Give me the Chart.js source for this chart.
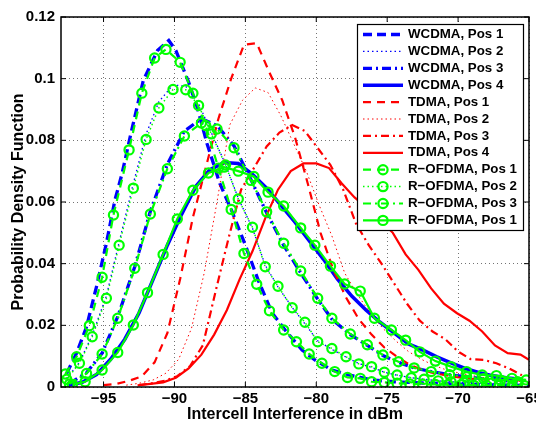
<!DOCTYPE html>
<html>
<head>
<meta charset="utf-8">
<title>Intercell Interference PDF</title>
<script src="https://cdn.jsdelivr.net/npm/chart.js"></script>
<style>
  body { margin: 0; background: #fff; }
</style>
</head>
<body>
<canvas id="pdfChart" width="536" height="424"></canvas>

<script>
  // axis ticks
  const xTickValues = [-95, -90, -85, -80, -75, -70, -65];
  const yTickValues = [0, 0.02, 0.04, 0.06, 0.08, 0.1, 0.12];

  // legend labels (same order as the original figure)
  const seriesLabels = [
    'WCDMA, Pos 1', 'WCDMA, Pos 2', 'WCDMA, Pos 3', 'WCDMA, Pos 4',
    'TDMA, Pos 1', 'TDMA, Pos 2', 'TDMA, Pos 3', 'TDMA, Pos 4',
    'R\u2212OFDMA, Pos 1', 'R\u2212OFDMA, Pos 2', 'R\u2212OFDMA, Pos 3', 'R\u2212OFDMA, Pos 1'
  ];

  // WCDMA
  const wcdma1X = [-97.6, -96.9, -96.2, -95.5, -94.8, -94.2, -93.7, -93.1, -92.2, -91.2, -90.4, -89.9, -89.0, -88.4, -87.7, -86.8, -86.0, -85.0, -84.1, -83.1, -82.2, -81.0, -80.1, -78.9, -77.7, -76.1, -74.5, -72.5, -70.5, -68.5, -66.5, -65.0];
  const wcdma1Y = [0.0044, 0.011, 0.0195, 0.0325, 0.0466, 0.0606, 0.0691, 0.0816, 0.0994, 0.1091, 0.1124, 0.1091, 0.0989, 0.0908, 0.0789, 0.066, 0.0576, 0.046, 0.0347, 0.0239, 0.0185, 0.012, 0.0088, 0.0055, 0.0039, 0.0023, 0.0017, 0.0013, 0.001, 0.0008, 0.0006, 0.0005];
  const wcdma2X = [-97.6, -96.7, -95.8, -94.8, -93.9, -92.9, -92.0, -91.1, -90.1, -89.2, -88.3, -87.4, -86.4, -85.5, -84.5, -83.6, -82.7, -81.7, -80.8, -79.9, -78.9, -77.9, -77.0, -76.1, -75.2, -74.3, -73.3, -72.4, -71.4, -70.5, -69.6, -68.6, -67.7, -66.7, -65.8];
  const wcdma2Y = [0.0028, 0.008, 0.0168, 0.0295, 0.047, 0.066, 0.082, 0.0925, 0.098, 0.0975, 0.092, 0.0825, 0.0722, 0.0612, 0.0515, 0.0395, 0.0325, 0.0258, 0.0205, 0.015, 0.0122, 0.0097, 0.0076, 0.0064, 0.0048, 0.0038, 0.003, 0.0025, 0.002, 0.0017, 0.0015, 0.0013, 0.0012, 0.001, 0.0009];
  const wcdma3X = [-97.4, -96.2, -95.1, -94.0, -92.8, -91.7, -90.5, -89.3, -88.1, -87.0, -85.8, -84.6, -83.5, -82.3, -81.1, -79.9, -78.9, -77.6, -76.4, -75.3, -74.2, -73.1, -71.9, -70.6, -69.4, -68.2, -67.0, -65.8];
  const wcdma3Y = [0.0012, 0.0046, 0.011, 0.0228, 0.039, 0.057, 0.0722, 0.083, 0.087, 0.0848, 0.0782, 0.0672, 0.0565, 0.046, 0.037, 0.0285, 0.022, 0.017, 0.0135, 0.0102, 0.008, 0.0062, 0.005, 0.004, 0.0033, 0.0027, 0.0022, 0.0017];
  const wcdma4X = [-97.5, -96.5, -95.5, -94.5, -93.5, -92.5, -91.5, -90.5, -89.5, -88.5, -87.5, -86.5, -85.5, -84.5, -83.5, -82.5, -81.5, -80.5, -79.5, -78.5, -77.5, -76.5, -75.5, -74.5, -73.5, -72.5, -71.5, -70.5, -69.5, -68.5, -67.5, -66.5, -65.5];
  const wcdma4Y = [0.0006, 0.0015, 0.004, 0.009, 0.0155, 0.024, 0.035, 0.046, 0.056, 0.065, 0.0705, 0.0728, 0.0725, 0.069, 0.0645, 0.059, 0.0535, 0.0475, 0.0415, 0.035, 0.0295, 0.025, 0.021, 0.0175, 0.014, 0.012, 0.0098, 0.0078, 0.006, 0.0046, 0.0036, 0.0029, 0.0025];

  // TDMA
  const tdma1X = [-95.0, -94.1, -93.2, -92.3, -91.4, -90.5, -89.6, -88.7, -87.8, -86.9, -86.0, -85.1, -84.2, -83.3, -82.4, -81.5, -80.6, -79.7, -78.8, -77.9, -77.0, -76.1, -75.2, -74.3, -73.4, -72.5, -71.6, -70.7, -69.8, -68.9, -68.0, -67.1, -66.2, -65.3];
  const tdma1Y = [0.0006, 0.001, 0.002, 0.0035, 0.008, 0.0175, 0.035, 0.055, 0.071, 0.087, 0.1, 0.111, 0.1115, 0.102, 0.093, 0.081, 0.066, 0.05, 0.038, 0.029, 0.022, 0.017, 0.0128, 0.0098, 0.0072, 0.0055, 0.0044, 0.0037, 0.003, 0.0026, 0.0024, 0.0022, 0.002, 0.002];
  const tdma2X = [-93.4, -92.5, -91.5, -90.6, -89.7, -88.8, -87.9, -87.0, -86.1, -85.2, -84.3, -83.4, -82.5, -81.6, -80.7, -79.8, -78.9, -78.0, -77.1, -76.2, -75.3, -74.4, -73.5, -72.6, -71.7, -70.8, -69.9, -69.0, -68.1, -67.2, -66.3, -65.4];
  const tdma2Y = [0.0006, 0.0012, 0.0023, 0.0045, 0.009, 0.019, 0.037, 0.06, 0.085, 0.093, 0.097, 0.0955, 0.088, 0.079, 0.07, 0.059, 0.049, 0.037, 0.03, 0.024, 0.019, 0.015, 0.0115, 0.009, 0.007, 0.0055, 0.0045, 0.0037, 0.003, 0.0025, 0.002, 0.0017];
  const tdma3X = [-92.5, -91.6, -90.7, -89.8, -88.9, -88.0, -87.1, -86.2, -85.3, -84.4, -83.5, -82.6, -81.7, -80.8, -79.9, -79.0, -78.1, -77.2, -76.3, -75.4, -74.5, -73.6, -72.7, -71.8, -70.9, -70.0, -69.1, -68.2, -67.3, -66.4, -65.5];
  const tdma3Y = [0.0006, 0.0012, 0.002, 0.0035, 0.0068, 0.0135, 0.031, 0.048, 0.064, 0.071, 0.078, 0.0825, 0.085, 0.083, 0.0775, 0.072, 0.064, 0.053, 0.046, 0.04, 0.0335, 0.027, 0.0215, 0.018, 0.0155, 0.0115, 0.009, 0.0088, 0.0077, 0.006, 0.0038];
  const tdma4X = [-92.6, -91.7, -90.8, -89.9, -89.0, -88.1, -87.2, -86.3, -85.4, -84.5, -83.6, -82.7, -81.8, -80.9, -80.0, -79.1, -78.2, -77.3, -76.4, -75.5, -74.6, -73.7, -72.8, -71.9, -71.0, -70.1, -69.2, -68.3, -67.4, -66.5, -65.6, -65.0];
  const tdma4Y = [0.0005, 0.001, 0.0015, 0.003, 0.006, 0.0105, 0.017, 0.025, 0.035, 0.044, 0.0547, 0.064, 0.07, 0.0725, 0.0725, 0.071, 0.066, 0.0615, 0.058, 0.054, 0.05, 0.043, 0.038, 0.032, 0.027, 0.024, 0.0215, 0.018, 0.0135, 0.011, 0.0105, 0.0088];

  // R-OFDMA (circle markers at every sample)
  const ofdma1X = [-97.7, -96.9, -96.0, -95.1, -94.3, -93.2, -92.3, -91.4, -90.6, -89.6, -88.7, -87.8, -86.9, -86.0, -85.1, -84.2, -83.3, -82.3, -81.4, -80.5, -79.6, -78.7, -77.8, -76.9, -76.1, -75.2, -74.3, -73.4, -72.5, -71.6, -70.7, -69.8, -68.9, -68.0, -67.1, -66.2, -65.3];
  const ofdma1Y = [0.0042, 0.0098, 0.0199, 0.0356, 0.0558, 0.0769, 0.0953, 0.1067, 0.1095, 0.1053, 0.0953, 0.0848, 0.071, 0.0576, 0.0433, 0.0333, 0.0247, 0.0185, 0.0147, 0.0107, 0.0077, 0.005, 0.0031, 0.0028, 0.0017, 0.0015, 0.0012, 0.001, 0.0009, 0.0008, 0.0008, 0.0007, 0.0006, 0.0005, 0.0005, 0.0004, 0.0004];
  const ofdma2X = wcdma2X;
  const ofdma2Y = [0.0025, 0.0077, 0.0163, 0.0288, 0.046, 0.0645, 0.0803, 0.0905, 0.0965, 0.0964, 0.0913, 0.0821, 0.072, 0.061, 0.0518, 0.039, 0.0327, 0.0257, 0.021, 0.0147, 0.0125, 0.0098, 0.0075, 0.0066, 0.0048, 0.0039, 0.003, 0.0025, 0.002, 0.0017, 0.0015, 0.0013, 0.0012, 0.001, 0.0009];
  const ofdma3X = wcdma3X;
  const ofdma3Y = [0.001, 0.0044, 0.0107, 0.0223, 0.0385, 0.0561, 0.0708, 0.0814, 0.0856, 0.0837, 0.0776, 0.067, 0.0568, 0.0466, 0.0376, 0.0288, 0.0223, 0.0172, 0.0137, 0.0104, 0.0082, 0.0062, 0.005, 0.004, 0.0033, 0.0027, 0.0022, 0.0017];
  const ofdma4X = [-97.2, -96.3, -95.1, -94.0, -92.9, -91.9, -90.8, -89.8, -88.7, -87.6, -86.5, -85.5, -84.4, -83.4, -82.3, -81.1, -80.1, -79.0, -78.0, -76.9, -75.9, -74.7, -73.7, -72.7, -71.6, -70.5, -69.4, -68.3, -67.3, -66.2, -65.2];
  const ofdma4Y = [0.0008, 0.0017, 0.0055, 0.0112, 0.0201, 0.0306, 0.043, 0.0545, 0.0638, 0.0694, 0.0713, 0.07, 0.0683, 0.0632, 0.0587, 0.0516, 0.046, 0.0392, 0.0334, 0.0311, 0.0223, 0.0185, 0.0152, 0.0114, 0.0084, 0.0066, 0.005, 0.0039, 0.0037, 0.0028, 0.0023];

  const FONT = '"Liberation Sans", Arial, Helvetica, sans-serif';
  const BLUE = '#0000ff', RED = '#ff0000', GREEN = '#00ff00';
  const DASH = [9, 5], DOT = [1.5, 3], DASHDOT = [9, 4, 2, 4];

  function pts(xs, ys) {
    return xs.map((x, i) => ({ x: x, y: ys[i] }));
  }

  // order: lower number is drawn on top (green over red over blue)
  function series(idx, xs, ys, color, width, dash, marker, order) {
    return {
      label: seriesLabels[idx],
      data: pts(xs, ys),
      borderColor: color,
      borderWidth: width,
      borderDash: dash,
      fill: false,
      tension: 0,
      order: order,
      pointRadius: marker ? 4.6 : 0,
      pointBorderWidth: 2.2,
      pointBorderColor: color,
      pointBackgroundColor: 'rgba(0,0,0,0)'
    };
  }

  const datasets = [
    series(0, wcdma1X, wcdma1Y, BLUE, 3.3, DASH, false, 2),
    series(1, wcdma2X, wcdma2Y, BLUE, 1.3, DOT, false, 2),
    series(2, wcdma3X, wcdma3Y, BLUE, 3.3, DASHDOT, false, 2),
    series(3, wcdma4X, wcdma4Y, BLUE, 3.6, [], false, 2),
    series(4, tdma1X, tdma1Y, RED, 2.2, [8, 6], false, 1),
    series(5, tdma2X, tdma2Y, RED, 1, DOT, false, 1),
    series(6, tdma3X, tdma3Y, RED, 2.2, [8, 4, 2, 4], false, 1),
    series(7, tdma4X, tdma4Y, RED, 2.2, [], false, 1),
    series(8, ofdma1X, ofdma1Y, GREEN, 2.2, [8, 6], true, 0),
    series(9, ofdma2X, ofdma2Y, GREEN, 1.5, DOT, true, 0),
    series(10, ofdma3X, ofdma3Y, GREEN, 2.2, [8, 4, 2, 4], true, 0),
    series(11, ofdma4X, ofdma4Y, GREEN, 2.2, [], true, 0)
  ];

  // black box round the plot with inward tick marks (matlab style)
  const axesBox = {
    id: 'axesBox',
    afterDatasetsDraw(chart) {
      const { ctx, chartArea: a, scales } = chart;
      ctx.save();
      ctx.strokeStyle = '#000';
      ctx.lineWidth = 1.5;
      ctx.setLineDash([]);
      ctx.strokeRect(a.left, a.top, a.right - a.left, a.bottom - a.top);
      ctx.lineWidth = 1;
      ctx.beginPath();
      xTickValues.forEach(v => {
        const x = scales.x.getPixelForValue(v);
        ctx.moveTo(x, a.bottom); ctx.lineTo(x, a.bottom - 5);
        ctx.moveTo(x, a.top); ctx.lineTo(x, a.top + 5);
      });
      yTickValues.forEach(v => {
        const y = scales.y.getPixelForValue(v);
        ctx.moveTo(a.left, y); ctx.lineTo(a.left + 5, y);
        ctx.moveTo(a.right, y); ctx.lineTo(a.right - 5, y);
      });
      ctx.stroke();
      ctx.restore();
    }
  };

  // legend box inside the plot, top right
  const boxLegend = {
    id: 'boxLegend',
    afterDraw(chart) {
      const { ctx, chartArea: a } = chart;
      const left = a.right - 172, top = a.top + 7, w = 166, h = 206;
      ctx.save();
      ctx.fillStyle = '#fff';
      ctx.fillRect(left, top, w, h);
      ctx.strokeStyle = '#000';
      ctx.lineWidth = 1.2;
      ctx.setLineDash([]);
      ctx.strokeRect(left + 0.5, top + 0.5, w, h);
      ctx.font = 'bold 13.3px ' + FONT;
      ctx.textBaseline = 'middle';
      ctx.textAlign = 'left';
      chart.data.datasets.forEach((ds, i) => {
        const y = top + 10.5 + i * 16.9;
        ctx.strokeStyle = ds.borderColor;
        ctx.lineWidth = ds.borderWidth;
        ctx.setLineDash(ds.borderDash);
        ctx.beginPath();
        ctx.moveTo(left + 6, y);
        ctx.lineTo(left + 46, y);
        ctx.stroke();
        if (ds.pointRadius > 0) {
          ctx.setLineDash([]);
          ctx.lineWidth = ds.pointBorderWidth;
          ctx.beginPath();
          ctx.arc(left + 26, y, ds.pointRadius, 0, Math.PI * 2);
          ctx.stroke();
        }
        ctx.fillStyle = '#000';
        ctx.fillText(ds.label, left + 51, y);
      });
      ctx.restore();
    }
  };

  Chart.defaults.font.family = FONT;
  Chart.defaults.color = '#000';

  const ctx = document.getElementById('pdfChart').getContext('2d');
  new Chart(ctx, {
    type: 'line',
    data: { datasets: datasets },
    plugins: [axesBox, boxLegend],
    options: {
      responsive: false,
      animation: false,
      events: [],
      layout: { padding: { top: 17, right: 7, bottom: 0, left: 0 } },
      plugins: { legend: { display: false }, tooltip: { enabled: false } },
      scales: {
        x: {
          type: 'linear',
          min: -98,
          max: -65,
          afterBuildTicks: s => { s.ticks = xTickValues.map(v => ({ value: v })); },
          afterFit: s => { s.height = 37; s.paddingLeft = 0; s.paddingRight = 0; },
          ticks: {
            callback: v => String(v).replace('-', '\u2212'),
            font: { size: 15, weight: 'bold' },
            padding: 3,
            maxRotation: 0,
            autoSkip: false
          },
          grid: { color: 'rgba(0,0,0,0.55)', lineWidth: 1, drawTicks: false },
          border: { display: false, dash: [1, 3] },
          title: {
            display: true,
            text: 'Intercell Interference in dBm',
            font: { size: 16, weight: 'bold' },
            padding: { top: 0, bottom: 0 }
          }
        },
        y: {
          min: 0,
          max: 0.12,
          afterBuildTicks: s => { s.ticks = yTickValues.map(v => ({ value: v })); },
          afterFit: s => { s.width = 61; s.paddingTop = 0; s.paddingBottom = 0; },
          ticks: {
            callback: v => String(+v.toFixed(2)),
            font: { size: 15, weight: 'bold' },
            padding: 6
          },
          grid: { color: 'rgba(0,0,0,0.55)', lineWidth: 1, drawTicks: false },
          border: { display: false, dash: [1, 3] },
          title: {
            display: true,
            text: 'Probability Density Function',
            font: { size: 16, weight: 'bold' },
            padding: { top: 9, bottom: 0 }
          }
        }
      }
    }
  });
</script>
</body>
</html>
